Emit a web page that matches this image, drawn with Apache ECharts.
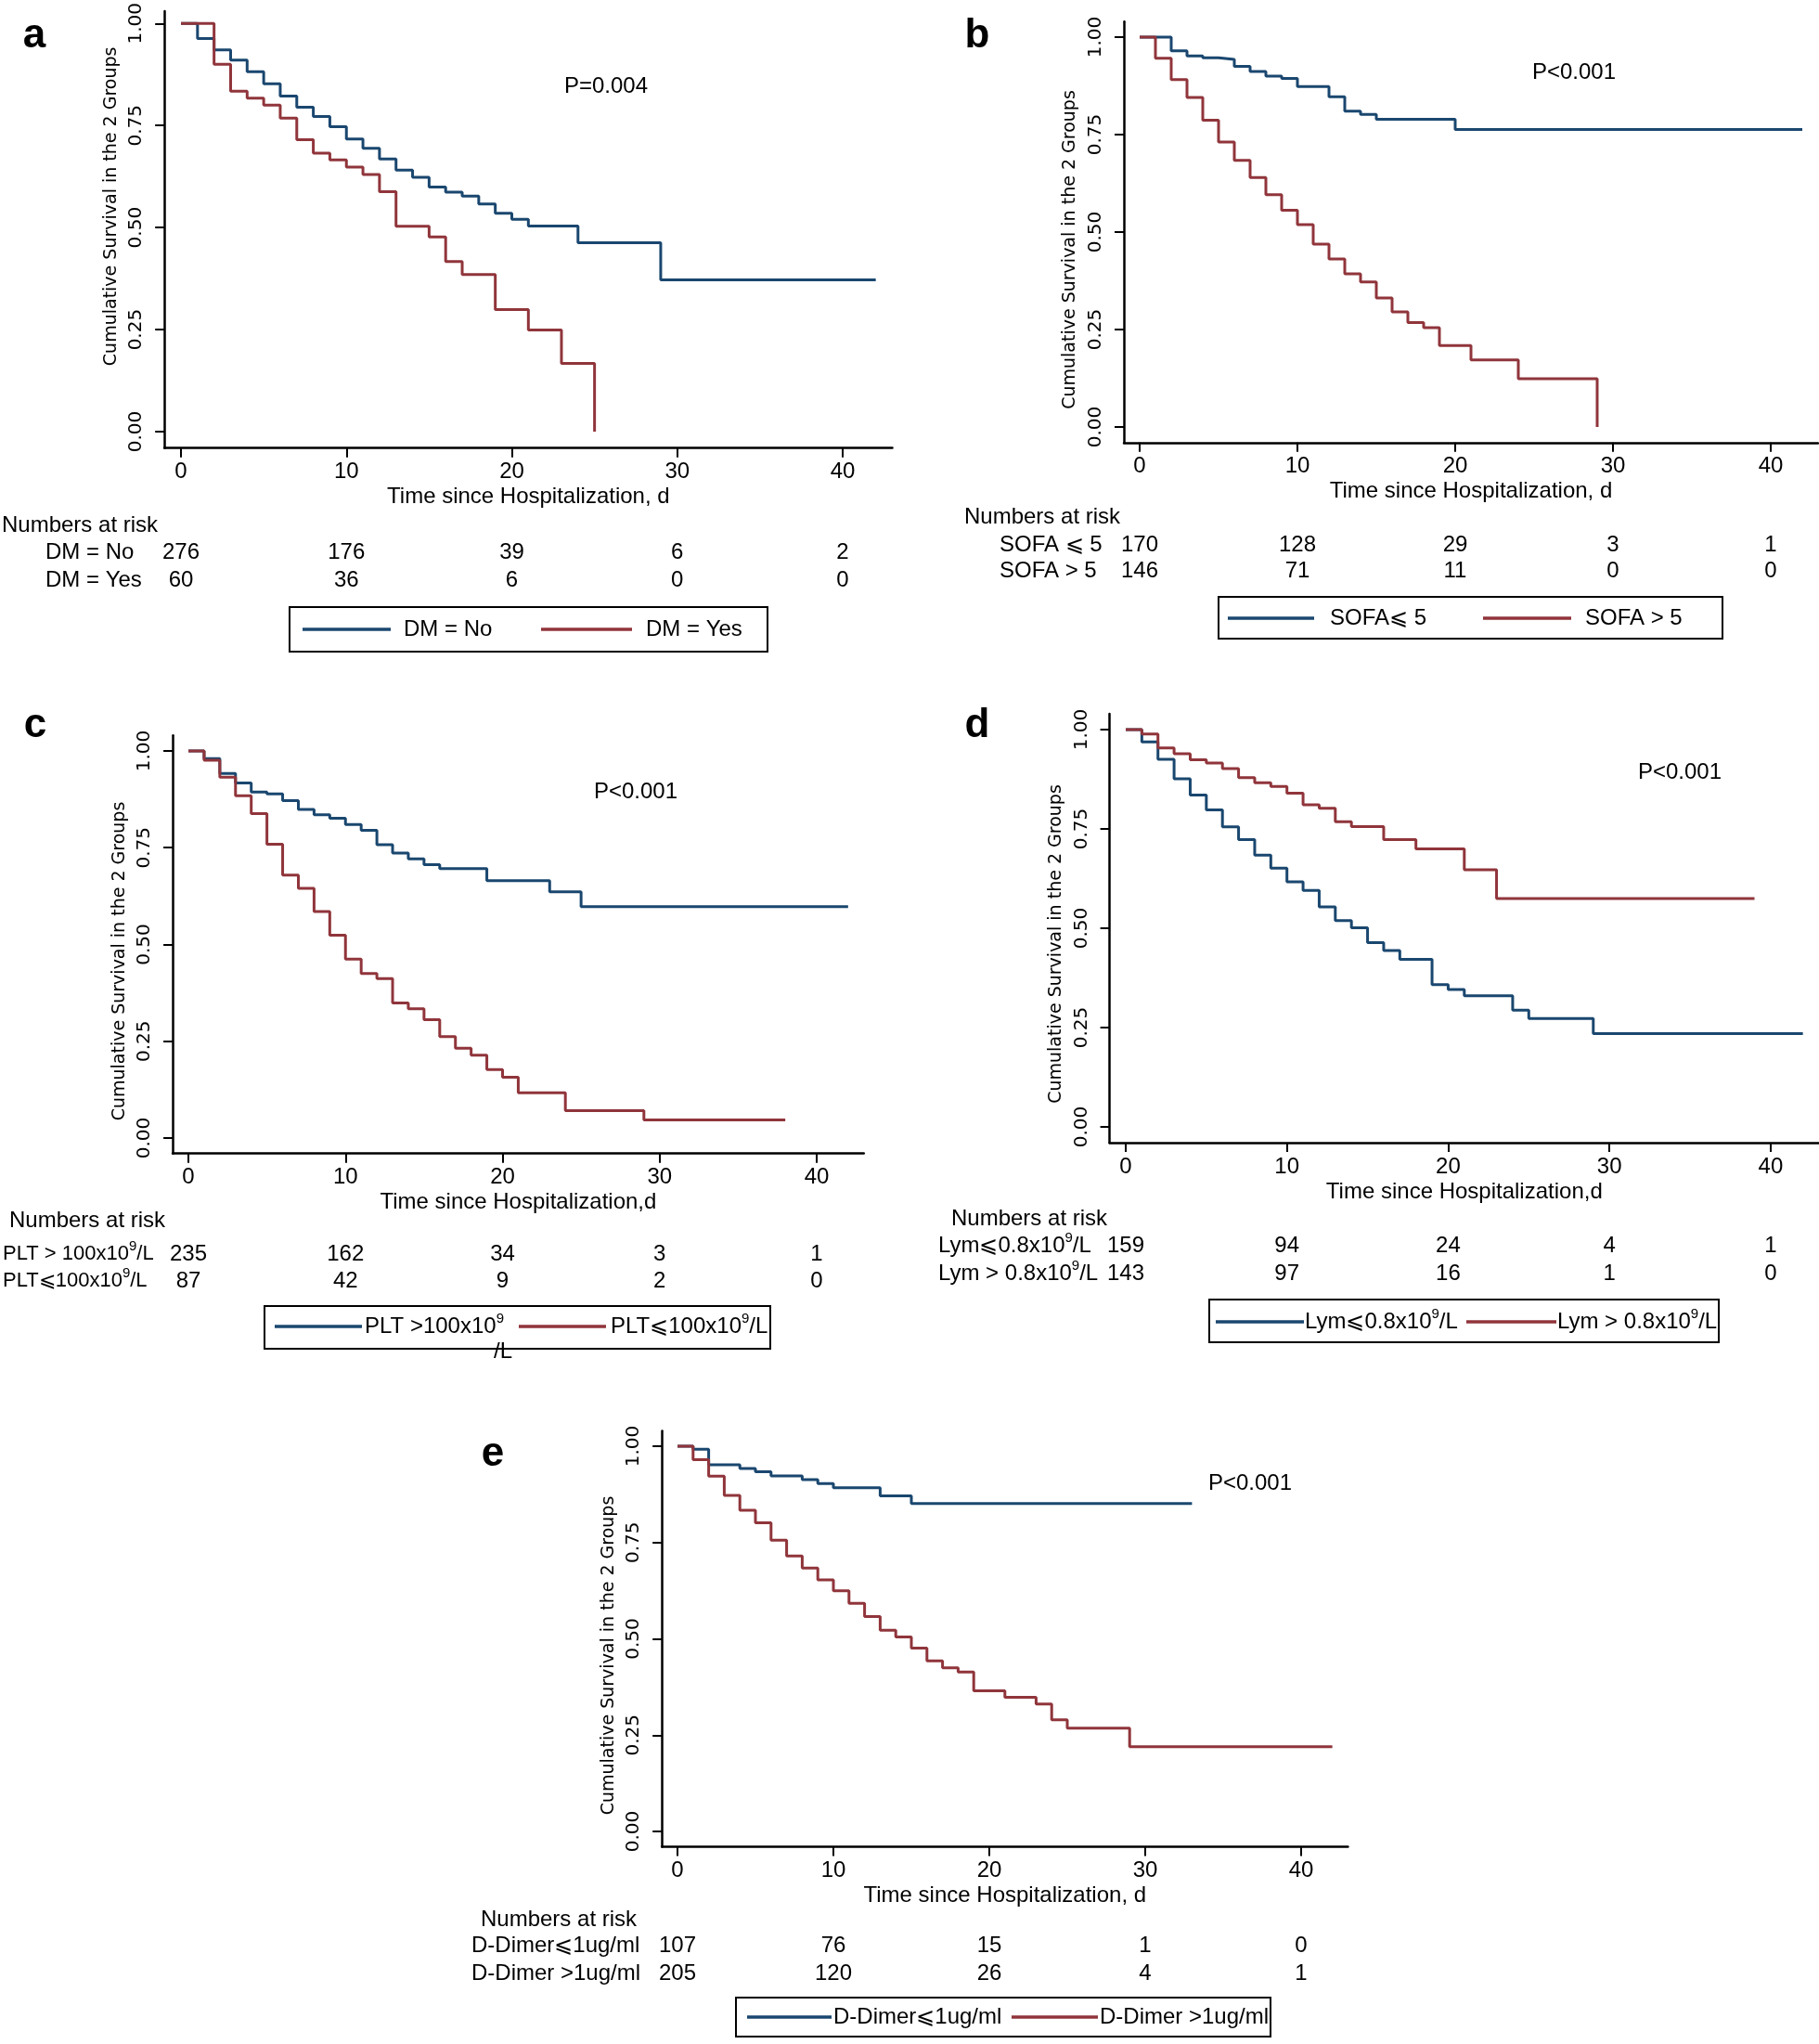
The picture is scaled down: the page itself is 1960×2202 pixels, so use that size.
<!DOCTYPE html>
<html lang="en">
<head>
<meta charset="UTF-8">
<title>Kaplan-Meier survival curves</title>
<script src="https://cdn.jsdelivr.net/npm/echarts@6/dist/echarts.min.js"></script>
<style>html,body{margin:0;padding:0;background:#fff}</style>
</head>
<body>
<div id="main" style="width:1960px;height:2202px"></div>
<script>
const NAVY = '#1a476f', MAROON = '#90353b';
const TXT = 'Liberation Sans, Arial, sans-serif';
const AXF = 'DejaVu Sans, Verdana, sans-serif';

const xTicks = [0, 10, 20, 30, 40];
const yTicks = [0, 0.25, 0.5, 0.75, 1];

// a: diabetes
const dmNo = [[0,1],[1,0.963],[2,0.935],[3,0.910],[4,0.882],[5,0.852],[6,0.822],[7,0.795],[8,0.772],[9,0.747],[10,0.717],[11,0.694],[12,0.668],[13,0.641],[14,0.623],[15,0.599],[16,0.587],[17,0.577],[18,0.558],[19,0.535],[20,0.520],[21,0.504],[24,0.463],[29,0.372],[42,0.372]];
const dmYes = [[0,1],[2,0.900],[3,0.834],[4,0.817],[5,0.800],[6,0.768],[7,0.715],[8,0.682],[9,0.666],[10,0.648],[11,0.630],[12,0.588],[13,0.503],[15,0.477],[16,0.417],[17,0.385],[19,0.299],[21,0.249],[23,0.167],[25,0]];
const riskDmNo = [276, 176, 39, 6, 2];
const riskDmYes = [60, 36, 6, 0, 0];

// b: SOFA
const sofaLow = [[0,1],[2,0.965],[3,0.952],[4,0.947],[5,0.943],[6,0.925],[7,0.912],[8,0.900],[9,0.894],[10,0.873],[12,0.847],[13,0.810],[14,0.802],[15,0.789],[20,0.763],[42,0.763]];
const sofaHigh = [[0,1],[1,0.946],[2,0.891],[3,0.845],[4,0.787],[5,0.731],[6,0.684],[7,0.640],[8,0.596],[9,0.556],[10,0.519],[11,0.469],[12,0.431],[13,0.393],[14,0.372],[15,0.331],[16,0.295],[17,0.268],[18,0.255],[19,0.209],[21,0.172],[24,0.124],[29,0]];
const riskSofaLow = [170, 128, 29, 3, 1];
const riskSofaHigh = [146, 71, 11, 0, 0];

// c: platelets
const pltHigh = [[0,1],[1,0.980],[2,0.942],[3,0.917],[4,0.894],[5,0.889],[6,0.872],[7,0.849],[8,0.835],[9,0.826],[10,0.810],[11,0.795],[12,0.758],[13,0.736],[14,0.721],[15,0.706],[16,0.696],[19,0.665],[23,0.636],[25,0.598],[42,0.598]];
const pltLow = [[0,1],[1,0.976],[2,0.932],[3,0.884],[4,0.838],[5,0.759],[6,0.679],[7,0.645],[8,0.585],[9,0.524],[10,0.462],[11,0.425],[12,0.412],[13,0.349],[14,0.334],[15,0.306],[16,0.262],[17,0.232],[18,0.214],[19,0.177],[20,0.157],[21,0.117],[24,0.071],[29,0.047],[38,0.047]];
const riskPltHigh = [235, 162, 34, 3, 1];
const riskPltLow = [87, 42, 9, 2, 0];

// d: lymphocytes
const lymLow = [[0,1],[1,0.969],[2,0.925],[3,0.876],[4,0.835],[5,0.798],[6,0.755],[7,0.723],[8,0.684],[9,0.651],[10,0.617],[11,0.595],[12,0.554],[13,0.519],[14,0.501],[15,0.464],[16,0.444],[17,0.422],[19,0.358],[20,0.346],[21,0.330],[24,0.294],[25,0.273],[29,0.235],[42,0.235]];
const lymHigh = [[0,1],[1,0.989],[2,0.954],[3,0.939],[4,0.924],[5,0.916],[6,0.902],[7,0.879],[8,0.866],[9,0.857],[10,0.840],[11,0.811],[12,0.802],[13,0.768],[14,0.756],[16,0.723],[18,0.700],[21,0.647],[23,0.575],[39,0.575]];
const riskLymLow = [159, 94, 24, 4, 1];
const riskLymHigh = [143, 97, 16, 1, 0];

// e: D-dimer
const ddLow = [[0,1],[1,0.992],[2,0.952],[4,0.942],[5,0.934],[6,0.923],[8,0.913],[9,0.903],[10,0.892],[13,0.871],[15,0.851],[33,0.851]];
const ddHigh = [[0,1],[1,0.965],[2,0.922],[3,0.872],[4,0.834],[5,0.801],[6,0.756],[7,0.715],[8,0.684],[9,0.653],[10,0.625],[11,0.592],[12,0.558],[13,0.522],[14,0.505],[15,0.476],[16,0.443],[17,0.425],[18,0.414],[19,0.365],[21,0.348],[23,0.331],[24,0.290],[25,0.268],[29,0.220],[42,0.220]];
const riskDdLow = [107, 76, 15, 1, 0];
const riskDdHigh = [205, 120, 26, 4, 1];

const panels = [
  {tag: 'a', pval: 'P=0.004', xName: 'Time since Hospitalization, d',
   names: ['DM = No', 'DM = Yes'], curves: [dmNo, dmYes], risk: [riskDmNo, riskDmYes],
   rows: ['DM = No', 'DM = Yes'], keys: ['DM = No', 'DM = Yes']},
  {tag: 'b', pval: 'P<0.001', xName: 'Time since Hospitalization, d',
   names: ['SOFA<=5', 'SOFA>5'], curves: [sofaLow, sofaHigh], risk: [riskSofaLow, riskSofaHigh],
   rows: ['SOFA ⩽ 5', 'SOFA > 5'], keys: ['SOFA⩽ 5', 'SOFA > 5']},
  {tag: 'c', pval: 'P<0.001', xName: 'Time since Hospitalization,d',
   names: ['PLT>100', 'PLT<=100'], curves: [pltHigh, pltLow], risk: [riskPltHigh, riskPltLow],
   rows: ['PLT > 100x10{s|9}/L', 'PLT⩽100x10{s|9}/L'], keys: ['PLT >100x10{s|9}', 'PLT⩽100x10{s|9}/L']},
  {tag: 'd', pval: 'P<0.001', xName: 'Time since Hospitalization,d',
   names: ['Lym<=0.8', 'Lym>0.8'], curves: [lymLow, lymHigh], risk: [riskLymLow, riskLymHigh],
   rows: ['Lym⩽0.8x10{s|9}/L', 'Lym > 0.8x10{s|9}/L'], keys: ['Lym⩽0.8x10{s|9}/L', 'Lym > 0.8x10{s|9}/L']},
  {tag: 'e', pval: 'P<0.001', xName: 'Time since Hospitalization, d',
   names: ['D-Dimer<=1', 'D-Dimer>1'], curves: [ddLow, ddHigh], risk: [riskDdLow, riskDdHigh],
   rows: ['D-Dimer⩽1ug/ml', 'D-Dimer >1ug/ml'], keys: ['D-Dimer⩽1ug/ml', 'D-Dimer >1ug/ml']}
];

// page layout of each panel (pixels)
const layout = [
  {x0: 195, x40: 908, y1: 24, y0: 465, ymax: 1.03, yShift: 25, tag: [37, 39], pv: [653, 93], rowSize: 24,
   nar: [2, 566], rowX: 49, rowY: [595, 625], box: [312, 654, 515, 48], lines: [[326, 421], [583, 681]], texts: [435, 696], ly: 678},
  {x0: 1228, x40: 1908, y1: 40, y0: 460, ymax: 1.04, yShift: -19, tag: [1053, 39], pv: [1696, 78], rowSize: 24,
   nar: [1039, 557], rowX: 1077, rowY: [587, 615], box: [1313, 643, 543, 45], lines: [[1323, 1416], [1598, 1693]], texts: [1433, 1708], ly: 666},
  {x0: 203, x40: 880, y1: 809, y0: 1226, ymax: 1.04, yShift: -18, tag: [38, 782], pv: [685, 853], rowSize: 22,
   nar: [10, 1315], rowX: 3, rowY: [1351, 1380], box: [285, 1407, 545, 46], lines: [[296, 390], [559, 653]], texts: [393, 658], ly: 1429},
  {x0: 1213, x40: 1909, y1: 786, y0: 1214, ymax: 1.04, yShift: -17, tag: [1053, 782], pv: [1810, 832], rowSize: 24,
   nar: [1025, 1313], rowX: 1011, rowY: [1342, 1372], box: [1303, 1400, 549, 46], lines: [[1310, 1405], [1580, 1677]], texts: [1406, 1678], ly: 1424},
  {x0: 730, x40: 1402, y1: 1558, y0: 1973, ymax: 1.04, yShift: -18, tag: [531, 1567], pv: [1347, 1598], rowSize: 24,
   nar: [518, 2068], rowX: 508, rowY: [2096, 2126], box: [793, 2152, 576, 42], lines: [[805, 896], [1090, 1183]], texts: [898, 1185], ly: 2173}
];

const YMIN = -0.04, XMIN = -1, XMAX = 43;
const colors = [NAVY, MAROON];
const rich = {s: {fontSize: 15, fontFamily: TXT, fill: '#000', verticalAlign: 'top', lineHeight: 15}};

const chart = echarts.init(document.getElementById('main'), null, {renderer: 'canvas'});

const grid = [], xAxis = [], yAxis = [], series = [];
panels.forEach(function (p, i) {
  const L = layout[i];
  const pxd = (L.x40 - L.x0) / 40;
  const pyu = L.y0 - L.y1;
  grid.push({
    left: L.x0 + XMIN * pxd, width: (XMAX - XMIN) * pxd,
    top: L.y1 - (L.ymax - 1) * pyu, height: (L.ymax - YMIN) * pyu
  });
  xAxis.push({
    gridIndex: i, type: 'value', min: XMIN, max: XMAX,
    axisLine: {show: true, onZero: false, lineStyle: {color: '#000', width: 2.5}},
    axisTick: {show: true, customValues: xTicks, length: 10, lineStyle: {color: '#000', width: 2}},
    axisLabel: {customValues: xTicks, margin: 14, fontSize: 24, fontFamily: TXT, color: '#000'},
    splitLine: {show: false},
    name: p.xName, nameLocation: 'middle', nameGap: 41,
    nameTextStyle: {fontSize: 24, fontFamily: TXT, color: '#000'}
  });
  const pad = L.yShift > 0 ? [0, 0, 0, 2 * L.yShift] : [0, -2 * L.yShift, 0, 0];
  yAxis.push({
    gridIndex: i, type: 'value', min: YMIN, max: L.ymax,
    axisLine: {show: true, onZero: false, lineStyle: {color: '#000', width: 2.5}},
    axisTick: {show: true, customValues: yTicks, length: 10, lineStyle: {color: '#000', width: 2}},
    axisLabel: {customValues: yTicks, rotate: 90, margin: 20, fontSize: 20, fontFamily: AXF, color: '#000',
      formatter: function (v) { return v.toFixed(2); }},
    splitLine: {show: false},
    name: 'Cumulative Survival in the 2 Groups', nameLocation: 'middle', nameRotate: 90, nameGap: 48,
    nameTextStyle: {fontSize: 19, fontFamily: AXF, color: '#000', padding: pad}
  });
  p.curves.forEach(function (c, k) {
    series.push({
      type: 'line', name: p.names[k], xAxisIndex: i, yAxisIndex: i,
      data: c, step: 'end', symbol: 'none', animation: false,
      lineStyle: {color: colors[k], width: 3}, itemStyle: {color: colors[k]}
    });
  });
});

chart.setOption({animation: false, backgroundColor: '#fff', grid: grid, xAxis: xAxis, yAxis: yAxis, series: series});

function txt(x, y, text, opt) {
  opt = opt || {};
  return {
    type: 'text', x: x, y: y, z: 10,
    style: {
      text: text, rich: rich, fill: '#000',
      fontSize: opt.size || 24, fontFamily: opt.family || TXT, fontWeight: opt.weight || 'normal',
      align: opt.align || 'left', verticalAlign: 'middle', lineHeight: 32
    }
  };
}

const graphics = [];
panels.forEach(function (p, i) {
  const L = layout[i];
  graphics.push(txt(L.tag[0], L.tag[1], p.tag, {size: 44, weight: 'bold', align: 'center'}));
  graphics.push(txt(L.pv[0], L.pv[1], p.pval, {align: 'center'}));
  graphics.push(txt(L.nar[0], L.nar[1], 'Numbers at risk'));
  p.rows.forEach(function (r, k) {
    graphics.push(txt(L.rowX, L.rowY[k], r, {size: L.rowSize}));
    p.risk[k].forEach(function (n, j) {
      const px = chart.convertToPixel({xAxisIndex: i}, xTicks[j]);
      graphics.push(txt(px, L.rowY[k], String(n), {align: 'center'}));
    });
  });
  graphics.push({type: 'rect', z: 10, shape: {x: L.box[0], y: L.box[1], width: L.box[2], height: L.box[3]},
    style: {fill: 'none', stroke: '#000', lineWidth: 2}});
  p.keys.forEach(function (key, k) {
    graphics.push({type: 'line', z: 10, shape: {x1: L.lines[k][0], y1: L.ly, x2: L.lines[k][1], y2: L.ly},
      style: {stroke: colors[k], lineWidth: 3.5}});
    graphics.push(txt(L.texts[k], L.ly, key));
  });
});
// stray unit that wraps below the legend of panel c
graphics.push(txt(542, 1456, '/L', {align: 'center'}));

chart.setOption({graphic: graphics});
</script>
</body>
</html>
